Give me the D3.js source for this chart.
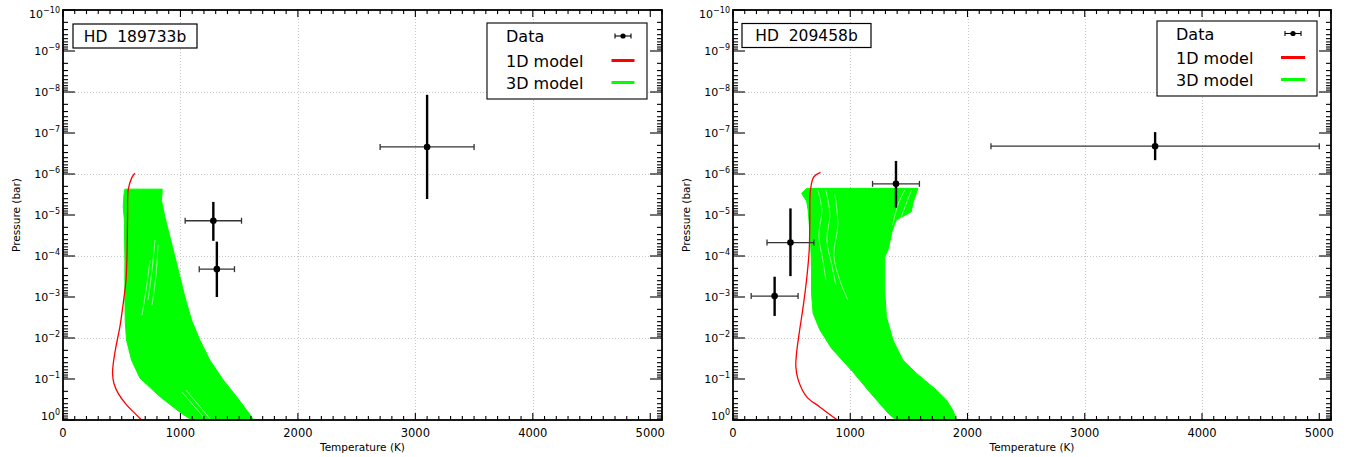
<!DOCTYPE html>
<html><head><meta charset="utf-8">
<script src="https://cdn.jsdelivr.net/npm/d3@7"></script>
<style>
body{margin:0;background:#fff}
text{font-family:"DejaVu Sans",sans-serif;fill:#000}
</style>
</head><body>
<svg id="c" width="1346" height="457"></svg>
<script>
// ---------------- data ----------------
const xTickValues = [0, 1000, 2000, 3000, 4000, 5000];
const xMinorStep = 100;
const yMajorExponents = [-10, -9, -8, -7, -6, -5, -4, -3, -2, -1, 0];
const xGridValues = [1000, 2000, 3000, 4000];
const yGridValues = [1e-8, 1e-6, 1e-4, 1e-2];
const planetNames = ["HD  189733b", "HD  209458b"];
const legendLabels = ["Data", "1D model", "3D model"];

// HD 189733b retrieved points
const hd189T = [3100, 1280, 1310];
const hd189Terr = [400, 240, 150];
const hd189P = [2.19e-7, 1.38e-5, 2.09e-4];
const hd189Plow = [1.17e-8, 4.8e-6, 4.47e-5];
const hd189Phigh = [4.07e-6, 4.27e-5, 1.0e-3];
// HD 189733b 1D model
const hd189_1dT = [612, 584, 555, 550, 545, 536, 513, 485, 451, 428, 422, 434, 470, 541, 612, 669];
const hd189_1dP = [9.5e-7, 1.26e-6, 2.45e-6, 1e-5, 1e-4, 4e-4, 1.41e-3, 5.2e-3, 1.62e-2, 4.2e-2, 7.2e-2, 0.129, 0.224, 0.427, 0.69, 1];
// HD 189733b 3D model envelope
const hd189_3dLeftT = [527, 519, 513, 522, 527, 527, 530, 541, 584, 655, 825, 1000, 1094];
const hd189_3dLeftP = [2.34e-6, 3.16e-6, 6.3e-6, 1.26e-5, 1.26e-4, 1e-3, 3.98e-3, 1.12e-2, 3.47e-2, 9.5e-2, 0.269, 0.66, 1];
const hd189_3dRightT = [845, 839, 867, 924, 981, 1037, 1094, 1165, 1250, 1363, 1477, 1605, 1618];
const hd189_3dRightP = [2.34e-6, 4.47e-6, 1.1e-5, 4.9e-5, 2.19e-4, 9.8e-4, 3.63e-3, 1.12e-2, 3.47e-2, 0.105, 0.269, 0.83, 1];
// HD 189733b gaps between 3D profiles (white streaks)
const hd189_gapT = [[783, 758, 724], [809, 792, 758], [741, 707, 673], [1013, 1218], [1047, 1260]];
const hd189_gapP = [[4.1e-5, 2.2e-4, 1.17e-3], [5.4e-5, 2.9e-4, 1.58e-3], [1.26e-4, 6.8e-4, 2.75e-3], [0.209, 1], [0.186, 1]];

// HD 209458b retrieved points
const hd209T = [3600, 1390, 490, 355];
const hd209Terr = [1400, 200, 200, 200];
const hd209P = [2.1e-7, 1.74e-6, 4.7e-5, 9.5e-4];
const hd209Plow = [9.5e-8, 4.8e-7, 6.9e-6, 3.2e-4];
const hd209Phigh = [4.6e-7, 6.6e-6, 3.1e-4, 2.9e-3];
// HD 209458b 1D model
const hd209_1dT = [746, 689, 661, 655, 650, 627, 598, 564, 542, 536, 556, 627, 740, 890];
const hd209_1dP = [9.1e-7, 1.17e-6, 2.45e-6, 1.58e-5, 7.1e-5, 3.9e-4, 1.74e-3, 7.8e-3, 2.34e-2, 5.0e-2, 0.105, 0.269, 0.479, 1];
// HD 209458b 3D model envelope
const hd209_3dLeftT = [628, 585, 606, 627, 641, 661, 670, 670, 683, 740, 840, 1020, 1175, 1325, 1388];
const hd209_3dLeftP = [2.24e-6, 2.95e-6, 3.7e-6, 4.47e-6, 7.6e-6, 4.07e-5, 1.82e-4, 8.1e-4, 2.5e-3, 6.3e-3, 1.78e-2, 6.6e-2, 0.224, 0.69, 1];
const hd209_3dRightT = [1577, 1534, 1521, 1393, 1359, 1322, 1294, 1294, 1308, 1364, 1449, 1563, 1734, 1819, 1875, 1904];
const hd209_3dRightP = [2.24e-6, 5.1e-6, 8.3e-6, 1.32e-5, 2.34e-5, 7.1e-5, 1.05e-4, 6.8e-4, 3.0e-3, 1.12e-2, 3.47e-2, 7.2e-2, 0.186, 0.324, 0.575, 1];
// HD 209458b gaps between 3D profiles (white streaks)
const hd209_gapT = [[724, 758, 732, 766, 792], [792, 826, 800, 843, 877], [869, 894, 860, 911, 979], [1464, 1405, 1362], [1524, 1456, 1396]];
const hd209_gapP = [[2.45e-6, 7.6e-6, 3.1e-5, 1.26e-4, 3.9e-4], [2.45e-6, 1e-5, 4.1e-5, 1.66e-4, 5.1e-4], [3.2e-6, 1.74e-5, 9.5e-5, 3.9e-4, 1.17e-3], [2.45e-6, 5.8e-6, 1.74e-5], [2.45e-6, 7.6e-6, 2.34e-5]];

// ---------------- layout ----------------
const panels = [
  {name: planetNames[0], x0: 63, x1: 662, y0: 10, y1: 420,
   T: hd189T, Terr: hd189Terr, P: hd189P, Plo: hd189Plow, Phi: hd189Phigh,
   m1T: hd189_1dT, m1P: hd189_1dP,
   lT: hd189_3dLeftT, lP: hd189_3dLeftP, rT: hd189_3dRightT, rP: hd189_3dRightP,
   gT: hd189_gapT, gP: hd189_gapP,
   title: {x: 73, y: 24, w: 124, h: 24},
   legend: {x: 487, y: 23, w: 160, h: 76, tx: 506, rows: [36, 60.5, 82.5], mx: 623, mw: 23}},
  {name: planetNames[1], x0: 733, x1: 1331, y0: 10, y1: 420,
   T: hd209T, Terr: hd209Terr, P: hd209P, Plo: hd209Plow, Phi: hd209Phigh,
   m1T: hd209_1dT, m1P: hd209_1dP,
   lT: hd209_3dLeftT, lP: hd209_3dLeftP, rT: hd209_3dRightT, rP: hd209_3dRightP,
   gT: hd209_gapT, gP: hd209_gapP,
   title: {x: 742, y: 23.5, w: 129, h: 24},
   legend: {x: 1157, y: 21, w: 160, h: 75, tx: 1176, rows: [33.5, 57.5, 79.5], mx: 1293, mw: 24}}
];

const svg = d3.select("#c");
svg.append("rect").attr("width", 1346).attr("height", 457).attr("fill", "#fff");

panels.forEach((p, pi) => {
  const x = d3.scaleLinear().domain([0, 5100]).range([p.x0, p.x1]);
  const y = d3.scaleLog().domain([1e-10, 1]).range([p.y0, p.y1]);
  const g = svg.append("g");
  const clipId = "clip" + pi;
  svg.append("clipPath").attr("id", clipId).append("rect")
    .attr("x", p.x0).attr("y", p.y0).attr("width", p.x1 - p.x0).attr("height", p.y1 - p.y0);

  // grid
  const grid = g.append("g").attr("stroke", "#c8c8c8").attr("stroke-width", 1).attr("stroke-dasharray", "1,2");
  xGridValues.forEach(v => grid.append("line").attr("x1", Math.round(x(v)) + 0.5).attr("x2", Math.round(x(v)) + 0.5).attr("y1", p.y0).attr("y2", p.y1));
  yGridValues.forEach(v => grid.append("line").attr("y1", Math.round(y(v)) + 0.5).attr("y2", Math.round(y(v)) + 0.5).attr("x1", p.x0).attr("x2", p.x1));

  const body = g.append("g").attr("clip-path", `url(#${clipId})`);

  // 3D model envelope
  const env = p.lT.map((t, i) => [t, p.lP[i]]).concat(p.rT.map((t, i) => [t, p.rP[i]]).reverse());
  body.append("path")
    .attr("d", d3.line().x(d => x(d[0])).y(d => y(d[1])).curve(d3.curveLinearClosed)(env))
    .attr("fill", "#00ff00").attr("stroke", "#00ff00").attr("stroke-width", 1);
  // gaps between individual 3D profiles
  const gapLine = d3.line().x(d => x(d[0])).y(d => y(d[1])).curve(d3.curveCatmullRom);
  p.gT.forEach((arr, k) => {
    body.append("path").attr("d", gapLine(arr.map((t, i) => [t, p.gP[k][i]])))
      .attr("fill", "none").attr("stroke", "#fff").attr("stroke-width", 0.7).attr("opacity", 0.85);
  });

  // 1D model
  body.append("path")
    .attr("d", d3.line().x((d, i) => x(d)).y((d, i) => y(p.m1P[i])).curve(d3.curveCatmullRom)(p.m1T))
    .attr("fill", "none").attr("stroke", "#ff0000").attr("stroke-width", 1.3);

  // data points
  p.T.forEach((t, i) => {
    const cx = x(t), cy = y(p.P[i]);
    const xl = x(t - p.Terr[i]), xr = x(t + p.Terr[i]);
    body.append("line").attr("x1", xl).attr("x2", xr).attr("y1", cy).attr("y2", cy)
      .attr("stroke", "#333").attr("stroke-width", 1.3);
    [xl, xr].forEach(xx => body.append("line").attr("x1", xx).attr("x2", xx).attr("y1", cy - 3).attr("y2", cy + 3)
      .attr("stroke", "#333").attr("stroke-width", 1.3));
    body.append("line").attr("x1", cx).attr("x2", cx).attr("y1", y(p.Plo[i])).attr("y2", y(p.Phi[i]))
      .attr("stroke", "#000").attr("stroke-width", 2.4);
    body.append("circle").attr("cx", cx).attr("cy", cy).attr("r", 3.3).attr("fill", "#000");
  });

  // frame
  g.append("rect").attr("x", p.x0).attr("y", p.y0).attr("width", p.x1 - p.x0).attr("height", p.y1 - p.y0)
    .attr("fill", "none").attr("stroke", "#000").attr("stroke-width", 1.8);

  // x ticks (bottom and top, inward)
  const tk = g.append("g").attr("stroke", "#000").attr("stroke-width", 1.1);
  for (let v = 0; v <= 5100; v += xMinorStep) {
    const major = v % 1000 === 0;
    const L = major ? 7 : 4;
    const xx = x(v);
    tk.append("line").attr("x1", xx).attr("x2", xx).attr("y1", p.y1).attr("y2", p.y1 - L);
    tk.append("line").attr("x1", xx).attr("x2", xx).attr("y1", p.y0).attr("y2", p.y0 + L);
  }
  xTickValues.forEach(v => {
    g.append("text").attr("x", x(v)).attr("y", 437).attr("text-anchor", "middle")
      .attr("font-size", 11.5).text(v);
  });

  // y ticks (left and right, inward)
  yMajorExponents.forEach(e => {
    const v = Math.pow(10, e);
    const yy = y(v);
    tk.append("line").attr("x1", p.x0).attr("x2", p.x0 + 12).attr("y1", yy).attr("y2", yy);
    tk.append("line").attr("x1", p.x1).attr("x2", p.x1 - 12).attr("y1", yy).attr("y2", yy);
    if (e < 0) {
      for (let k = 2; k <= 9; k++) {
        const ym = y(k * v);
        tk.append("line").attr("x1", p.x0).attr("x2", p.x0 + 5).attr("y1", ym).attr("y2", ym);
        tk.append("line").attr("x1", p.x1).attr("x2", p.x1 - 5).attr("y1", ym).attr("y2", ym);
      }
    }
    const ly = Math.max(14, Math.min(416, yy));
    const t = g.append("text").attr("x", p.x0 - 3).attr("y", ly + 4).attr("text-anchor", "end").attr("font-size", 11);
    t.append("tspan").text("10");
    t.append("tspan").attr("dy", -5).attr("font-size", 8).text(e === 0 ? "0" : "\u2212" + Math.abs(e));
  });

  // axis titles
  g.append("text").attr("x", (p.x0 + p.x1) / 2).attr("y", 451).attr("text-anchor", "middle")
    .attr("font-size", 10.5).text("Temperature (K)");
  g.append("text").attr("transform", `translate(${p.x0 - 43},${(p.y0 + p.y1) / 2}) rotate(-90)`)
    .attr("text-anchor", "middle").attr("font-size", 10.5).text("Pressure (bar)");

  // title box
  g.append("rect").attr("x", p.title.x).attr("y", p.title.y).attr("width", p.title.w).attr("height", p.title.h)
    .attr("fill", "#fff").attr("stroke", "#000").attr("stroke-width", 1.2);
  g.append("text").attr("x", p.title.x + p.title.w / 2).attr("y", p.title.y + 17.5).attr("text-anchor", "middle")
    .attr("font-size", 15.5).style("white-space", "pre").text(p.name);

  // legend
  const lg = p.legend;
  g.append("rect").attr("x", lg.x).attr("y", lg.y).attr("width", lg.w).attr("height", lg.h)
    .attr("fill", "#fff").attr("stroke", "#000").attr("stroke-width", 1.1);
  legendLabels.forEach((lab, i) => {
    g.append("text").attr("x", lg.tx).attr("y", lg.rows[i] + 6).attr("font-size", 16).text(lab);
  });
  const r0 = lg.rows[0];
  g.append("line").attr("x1", lg.mx - 8).attr("x2", lg.mx + 8).attr("y1", r0).attr("y2", r0).attr("stroke", "#000").attr("stroke-width", 1.1);
  [lg.mx - 8, lg.mx + 8].forEach(xx => g.append("line").attr("x1", xx).attr("x2", xx).attr("y1", r0 - 2.5).attr("y2", r0 + 2.5).attr("stroke", "#000").attr("stroke-width", 1.1));
  g.append("circle").attr("cx", lg.mx).attr("cy", r0).attr("r", 2.6).attr("fill", "#000");
  g.append("line").attr("x1", lg.mx - lg.mw / 2).attr("x2", lg.mx + lg.mw / 2).attr("y1", lg.rows[1]).attr("y2", lg.rows[1])
    .attr("stroke", "#ff0000").attr("stroke-width", 3);
  g.append("line").attr("x1", lg.mx - lg.mw / 2).attr("x2", lg.mx + lg.mw / 2).attr("y1", lg.rows[2]).attr("y2", lg.rows[2])
    .attr("stroke", "#00ff00").attr("stroke-width", 3);
});
</script>
</body></html>
